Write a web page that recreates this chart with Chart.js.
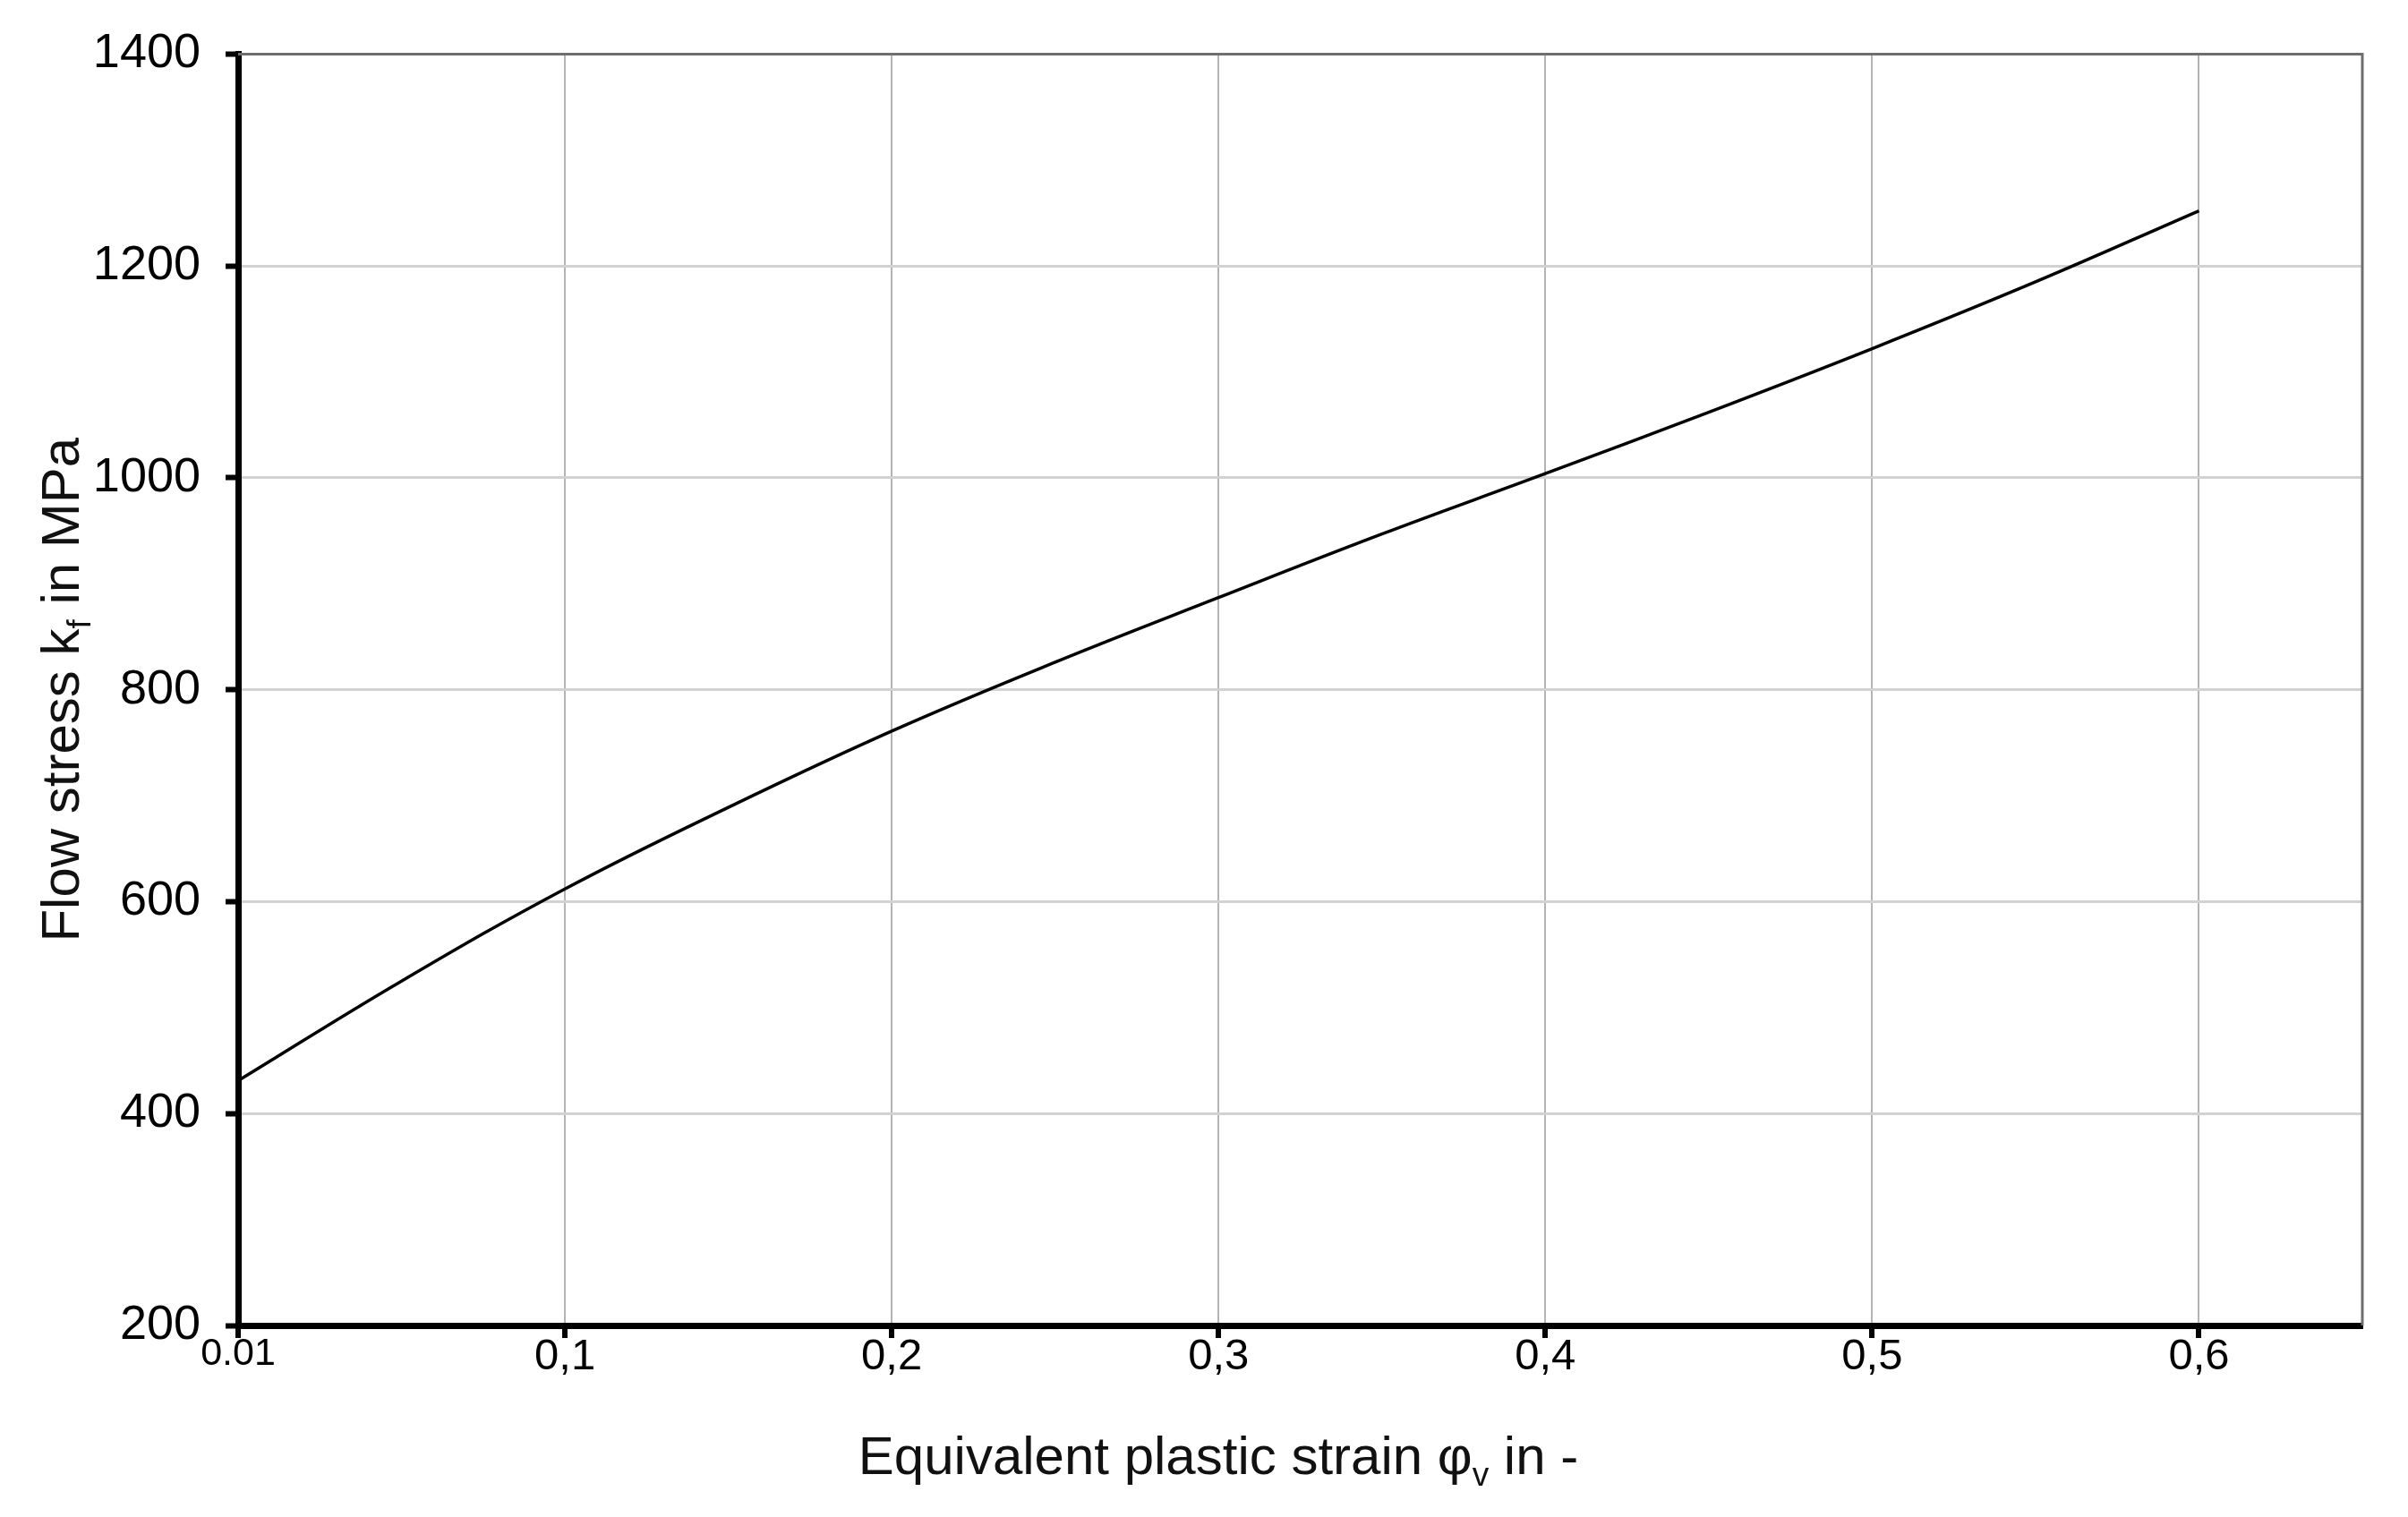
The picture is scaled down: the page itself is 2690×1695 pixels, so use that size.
<!DOCTYPE html>
<html>
<head>
<meta charset="utf-8">
<script src="https://cdn.jsdelivr.net/npm/chart.js@4/dist/chart.umd.min.js"></script>
<style>
  body { margin: 0; background: #fff; }
  #wrap { width: 2690px; height: 1695px; }
</style>
</head>
<body>
<div id="wrap"><canvas id="myChart" width="2690" height="1695"></canvas></div>
<script>
// values
const strain = [0, 0.05, 0.1, 0.15, 0.2, 0.25, 0.3, 0.35, 0.4, 0.45, 0.5, 0.55, 0.6]
const flowStress = [431, 525, 612, 689, 761, 826, 887, 947, 1004, 1062, 1122, 1185, 1252]
const xTickValues = [0, 0.1, 0.2, 0.3, 0.4, 0.5, 0.6]
const xTickLabels = ['0.01', '0,1', '0,2', '0,3', '0,4', '0,5', '0,6']
const yTickValues = [200, 400, 600, 800, 1000, 1200, 1400]

const FONT = '"Liberation Sans", Arial, sans-serif'

const points = strain.map((x, i) => ({ x: x, y: flowStress[i] }))

// draws text with subscript parts, centred on (0,0)
function drawRich(ctx, parts, size) {
    let w = 0
    parts.forEach(p => {
        ctx.font = (p.sub ? Math.round(size * 0.62) : size) + 'px ' + FONT
        p.w = ctx.measureText(p.t).width
        w += p.w
    })
    let x = -w / 2
    parts.forEach(p => {
        ctx.font = (p.sub ? Math.round(size * 0.62) : size) + 'px ' + FONT
        ctx.fillText(p.t, x, p.sub ? size * 0.22 : 0)
        x += p.w
    })
}

const frameAndTitles = {
    id: 'frameAndTitles',
    beforeDatasetsDraw(chart) {
        const a = chart.chartArea
        const ctx = chart.ctx
        ctx.save()
        ctx.strokeStyle = '#6e6e6e'
        ctx.lineWidth = 3
        ctx.beginPath()
        ctx.moveTo(a.left, a.top)
        ctx.lineTo(a.right, a.top)
        ctx.lineTo(a.right, a.bottom)
        ctx.stroke()
        ctx.restore()
    },
    afterDraw(chart) {
        const ctx = chart.ctx
        const a = chart.chartArea
        ctx.save()
        ctx.fillStyle = '#111'
        ctx.textBaseline = 'alphabetic'
        ctx.textAlign = 'left'
        ctx.translate(1361, 1647)
        drawRich(ctx, [
            { t: 'Equivalent plastic strain φ' },
            { t: 'v', sub: true },
            { t: ' in -' }
        ], 60)
        ctx.restore()

        ctx.save()
        ctx.fillStyle = '#111'
        ctx.textBaseline = 'alphabetic'
        ctx.textAlign = 'left'
        ctx.translate(88, (a.top + a.bottom) / 2)
        ctx.rotate(-Math.PI / 2)
        drawRich(ctx, [
            { t: 'Flow stress k' },
            { t: 'f', sub: true },
            { t: ' in MPa' }
        ], 60)
        ctx.restore()
    }
}

const ctx = document.getElementById('myChart')

const data = {
    datasets: [{
        label: 'Flow stress',
        data: points,
        borderColor: '#000',
        borderWidth: 3.5,
        pointRadius: 0,
        fill: false,
        tension: 0.4
    }]
}

const config = {
    type: 'line',
    data: data,
    plugins: [frameAndTitles],
    options: {
        responsive: false,
        animation: false,
        devicePixelRatio: 1,
        layout: { padding: { top: 60, right: 51, left: 0, bottom: 0 } },
        plugins: {
            legend: { display: false },
            tooltip: { enabled: false }
        },
        scales: {
            x: {
                type: 'linear',
                min: 0,
                max: 0.65,
                afterBuildTicks: scale => {
                    scale.ticks = xTickValues.map(v => ({ value: v }))
                },
                afterFit: scale => { scale.height = 214 },
                ticks: {
                    color: '#000',
                    padding: -8,
                    maxRotation: 0,
                    autoSkip: false,
                    font: c => ({ family: FONT, size: (c.tick && c.tick.value === 0) ? 43 : 49 }),
                    callback: (v, i) => xTickLabels[i]
                },
                grid: {
                    color: '#b4b4b4',
                    lineWidth: 2,
                    tickColor: '#000',
                    tickWidth: 6,
                    tickLength: 14
                },
                border: { color: '#000', width: 7 }
            },
            y: {
                min: 200,
                max: 1400,
                afterBuildTicks: scale => {
                    scale.ticks = yTickValues.map(v => ({ value: v }))
                },
                afterFit: scale => { scale.width = 266 },
                ticks: {
                    color: '#000',
                    padding: 28,
                    font: { family: FONT, size: 54 },
                    callback: v => String(v)
                },
                grid: {
                    color: '#d2d2d2',
                    lineWidth: 3,
                    tickColor: '#000',
                    tickWidth: 6,
                    tickLength: 14
                },
                border: { color: '#000', width: 7 }
            }
        }
    }
}

const myChart = new Chart(ctx, config)
</script>
</body>
</html>
